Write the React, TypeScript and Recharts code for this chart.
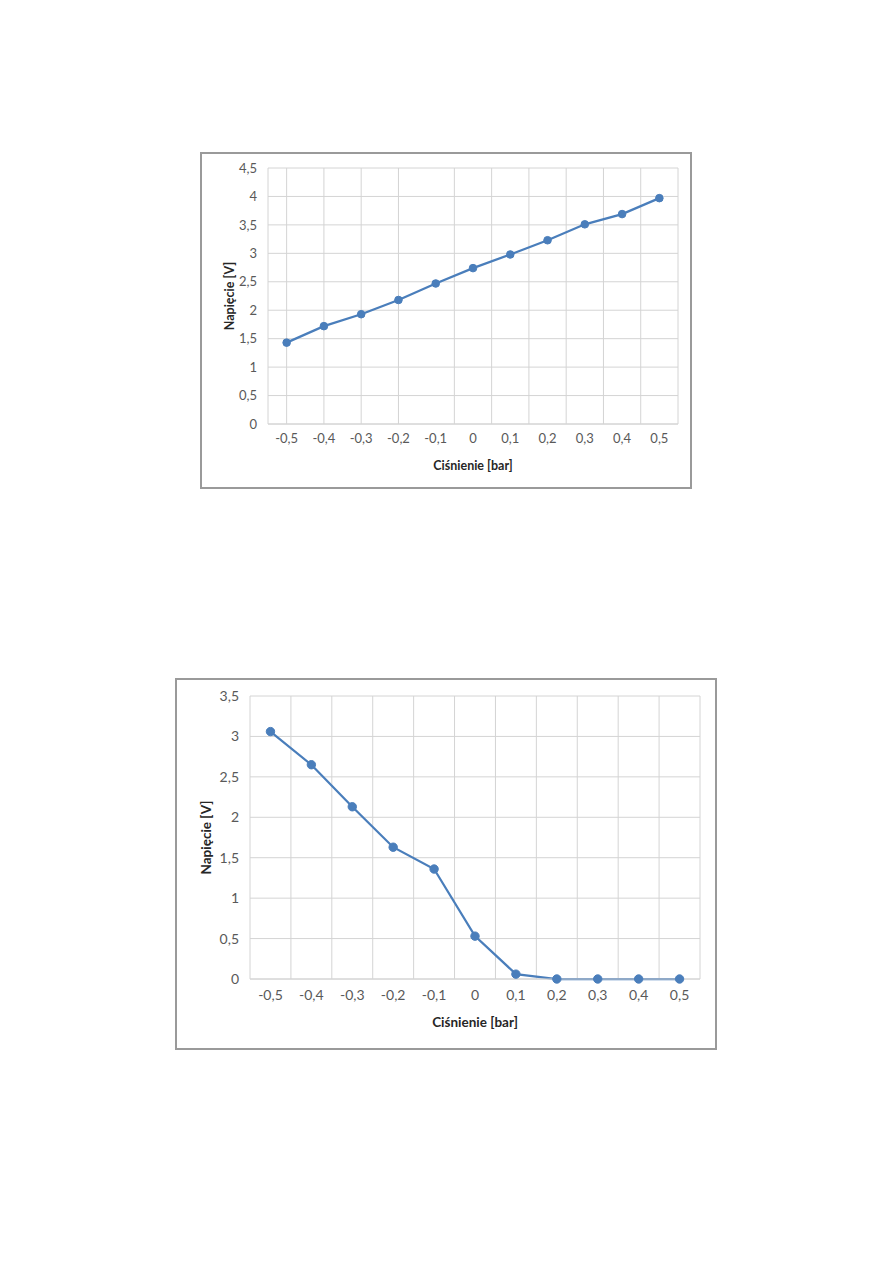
import React from 'react';
import { LineChart, Line, XAxis, YAxis, CartesianGrid } from 'recharts';

// pressure points on the category axis
const pressure = [-0.5, -0.4, -0.3, -0.2, -0.1, 0, 0.1, 0.2, 0.3, 0.4, 0.5];
// vertical gridlines sit on category borders and centres (Excel style)
const gridTicks = [
  -0.55, -0.5, -0.45, -0.4, -0.35, -0.3, -0.25, -0.2, -0.15, -0.1, -0.05, 0,
  0.05, 0.1, 0.15, 0.2, 0.25, 0.3, 0.35, 0.4, 0.45, 0.5, 0.55,
];

const voltageA = [1.43, 1.72, 1.93, 2.18, 2.47, 2.74, 2.98, 3.23, 3.51, 3.69, 3.97];
const voltageB = [3.06, 2.65, 2.13, 1.63, 1.36, 0.53, 0.06, 0, 0, 0, 0];

const yTicksA = [0, 0.5, 1, 1.5, 2, 2.5, 3, 3.5, 4, 4.5];
const yTicksB = [0, 0.5, 1, 1.5, 2, 2.5, 3, 3.5];

const dataA = pressure.map((p, i) => ({ p, v: voltageA[i] }));
const dataB = pressure.map((p, i) => ({ p, v: voltageB[i] }));

const LINE = '#4a7ebb';
const FONT = 'Lato, "Open Sans", sans-serif';

const fmt = (v: number) => String(Math.round(v * 10) / 10).replace('.', ',');

interface PanelProps {
  data: { p: number; v: number }[];
  yTicks: number[];
  left: number;
  top: number;
  width: number;
  height: number;
  margin: { top: number; right: number; bottom: number; left: number };
  yAxisWidth: number;
  tickSize: number;
  titleSize: number;
  yTitleX: number;
  xTitleY: number;
  xTickMargin: number;
  dot: number;
}

function Panel(props: PanelProps) {
  const { data, yTicks, margin } = props;
  const yMax = yTicks[yTicks.length - 1];

  const yTitle = {
    content: ({ viewBox }: any) => {
      const cy = viewBox.y + viewBox.height / 2;
      return (
        <text
          x={props.yTitleX}
          y={cy}
          transform={`rotate(-90 ${props.yTitleX} ${cy})`}
          textAnchor="middle"
          dominantBaseline="central"
          fontFamily={FONT}
          fontWeight="bold"
          fontSize={props.titleSize}
          fill="#262626"
        >
          Napięcie [V]
        </text>
      );
    },
  };

  const xTitle = {
    content: ({ viewBox }: any) => (
      <text
        x={viewBox.x + viewBox.width / 2}
        y={props.xTitleY}
        textAnchor="middle"
        dominantBaseline="central"
        fontFamily={FONT}
        fontWeight="bold"
        fontSize={props.titleSize}
        fill="#262626"
      >
        Ciśnienie [bar]
      </text>
    ),
  };

  return (
    <div
      style={{
        position: 'absolute',
        left: props.left,
        top: props.top,
        width: props.width,
        height: props.height,
        border: '2px solid #9a9a9a',
        background: '#fff',
      }}
    >
      <LineChart width={props.width} height={props.height} data={data} margin={margin}>
        <XAxis
          xAxisId="grid"
          dataKey="p"
          type="number"
          domain={[-0.55, 0.55]}
          ticks={gridTicks}
          height={0}
          hide
        />
        <CartesianGrid xAxisId="grid" stroke="#d4d4d4" strokeWidth={1} />
        <XAxis
          dataKey="p"
          type="number"
          domain={[-0.55, 0.55]}
          ticks={pressure}
          tickFormatter={fmt}
          height={30}
          tickLine={false}
          tickSize={0}
          tickMargin={props.xTickMargin}
          axisLine={{ stroke: '#d4d4d4' }}
          tick={{ fill: '#595959', fontSize: props.tickSize, fontFamily: FONT }}
          interval={0}
          label={xTitle}
        />
        <YAxis
          domain={[0, yMax]}
          ticks={yTicks}
          tickFormatter={fmt}
          width={props.yAxisWidth}
          axisLine={false}
          tickLine={false}
          tickSize={0}
          tickMargin={11}
          tick={{ fill: '#595959', fontSize: props.tickSize, fontFamily: FONT }}
          interval={0}
          label={yTitle}
        />
        <Line
          dataKey="v"
          type="linear"
          stroke={LINE}
          strokeWidth={2.25}
          dot={{ r: props.dot, fill: LINE, stroke: LINE, strokeWidth: 1 }}
          activeDot={false}
          isAnimationActive={false}
        />
      </LineChart>
    </div>
  );
}

export default function App() {
  return (
    <div>
      <Panel
        data={dataA}
        yTicks={yTicksA}
        left={200}
        top={152}
        width={488}
        height={333}
        margin={{ top: 14, right: 12, bottom: 33, left: 10 }}
        yAxisWidth={56}
        tickSize={13}
        titleSize={12.5}
        yTitleX={27}
        xTitleY={311}
        xTickMargin={10}
        dot={3.8}
      />
      <Panel
        data={dataB}
        yTicks={yTicksB}
        left={175}
        top={678}
        width={538}
        height={368}
        margin={{ top: 16, right: 15, bottom: 39, left: 10 }}
        yAxisWidth={63}
        tickSize={14}
        titleSize={13.5}
        yTitleX={29}
        xTitleY={342}
        xTickMargin={11}
        dot={4.2}
      />
    </div>
  );
}
